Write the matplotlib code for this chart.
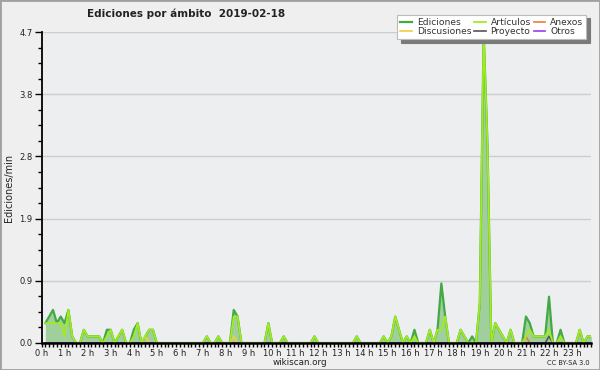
import numpy as np
import matplotlib
matplotlib.use("Agg")
import matplotlib.pyplot as plt
from matplotlib.ticker import MultipleLocator, FixedLocator
import matplotlib.transforms as mtrans

# edits/min per 10-minute bin, one row per hour (first bin of the day missing)
ediciones = [
    np.nan, 0.3, 0.4, 0.5, 0.3, 0.4,   # 0h
    0.3, 0.5, 0.1, 0, 0, 0.2,          # 1h
    0.1, 0.1, 0.1, 0.1, 0, 0.2,        # 2h
    0.2, 0, 0.1, 0.2, 0, 0,            # 3h
    0.2, 0.3, 0, 0.1, 0.2, 0.2,        # 4h
    0, 0, 0, 0, 0, 0,                  # 5h
    0, 0, 0, 0, 0, 0,                  # 6h
    0, 0.1, 0, 0, 0.1, 0,              # 7h
    0, 0, 0.5, 0.4, 0, 0,              # 8h
    0, 0, 0, 0, 0, 0.3,                # 9h
    0, 0, 0, 0.1, 0, 0,                # 10h
    0, 0, 0, 0, 0, 0.1,                # 11h
    0, 0, 0, 0, 0, 0,                  # 12h
    0, 0, 0, 0, 0.1, 0,                # 13h
    0, 0, 0, 0, 0, 0.1,                # 14h
    0, 0.1, 0.4, 0.2, 0, 0.1,          # 15h
    0, 0.2, 0, 0, 0, 0.2,              # 16h
    0, 0.2, 0.9, 0.4, 0, 0,            # 17h
    0, 0.2, 0.1, 0, 0.1, 0,            # 18h
    0.6, 4.7, 3.0, 0, 0.3, 0.2,        # 19h
    0.1, 0, 0.2, 0, 0, 0,              # 20h
    0.4, 0.3, 0.1, 0.1, 0.1, 0.1,      # 21h
    0.7, 0, 0, 0.2, 0, 0,              # 22h
    0, 0, 0.2, 0, 0.1, 0.1,            # 23h
]
articulos = [
    np.nan, 0.3, 0.3, 0.3, 0.3, 0.3,
    0.1, 0.5, 0.1, 0, 0, 0.2,
    0.1, 0.1, 0.1, 0.1, 0, 0.1,
    0.2, 0, 0.1, 0.2, 0, 0,
    0.1, 0.3, 0, 0.1, 0.2, 0.2,
    0, 0, 0, 0, 0, 0,
    0, 0, 0, 0, 0, 0,
    0, 0.1, 0, 0, 0.1, 0,
    0, 0, 0.4, 0.4, 0, 0,
    0, 0, 0, 0, 0, 0.3,
    0, 0, 0, 0.1, 0, 0,
    0, 0, 0, 0, 0, 0.1,
    0, 0, 0, 0, 0, 0,
    0, 0, 0, 0, 0.1, 0,
    0, 0, 0, 0, 0, 0.1,
    0, 0.1, 0.4, 0.2, 0, 0.1,
    0, 0.1, 0, 0, 0, 0.2,
    0, 0.2, 0.2, 0.4, 0, 0,
    0, 0.2, 0.1, 0, 0, 0,
    0.6, 4.7, 3.0, 0, 0.3, 0.2,
    0.1, 0, 0.2, 0, 0, 0,
    0.1, 0.2, 0.1, 0.1, 0.1, 0.1,
    0.2, 0, 0, 0.1, 0, 0,
    0, 0, 0.2, 0, 0.1, 0.1,
]
# sparse series: (bin index, value)
discusiones_pts = [(27, 0.1), (50, 0.1)]
anexos_pts = [(126, 0.1)]
proyecto_pts = [(132, 0.1)]
otros_pts = []

labels = ["Ediciones", "Discusiones", "Artículos", "Proyecto", "Anexos", "Otros"]
hour_labels = [f"{h} h" for h in range(24)]
YMAX = 4.7

C_ED, C_FILL = "#42a945", "#a0cf9c"
C_ART, C_DISC = "#a2ec1e", "#f2d038"
C_ANX, C_PROJ, C_OTR = "#f07a3a", "#555555", "#9b3cf0"
BG_FIG, BG_AX = "#efefef", "#edeef0"
TXT = "#222222"

n = len(ediciones)
t = np.arange(n) / 6.0

def from_pts(pts):
    v = np.zeros(n)
    v[0] = np.nan
    for k, val in pts:
        v[k] = val
    return v

ed = np.array(ediciones, dtype=float)
art = np.array(articulos, dtype=float)

W, H = 600, 370
fig = plt.figure(figsize=(6, 3.7), dpi=100)
fig.patch.set_facecolor(BG_FIG)
ax = fig.add_axes([41.5 / W, 27 / H, 549.8 / W, 311 / H])
ax.set_facecolor(BG_AX)

ax.fill_between(t, 0, ed, color=C_FILL, lw=0)
l_ed, = ax.plot(t, ed, color=C_ED, lw=1.6)
l_disc, = ax.plot(t, from_pts(discusiones_pts), color=C_DISC, lw=1.2)
l_anx, = ax.plot(t, from_pts(anexos_pts), color=C_ANX, lw=1.2)
l_proj, = ax.plot(t, from_pts(proyecto_pts), color=C_PROJ, lw=1.2)
l_otr, = ax.plot(t, from_pts(otros_pts), color=C_OTR, lw=1.2)
l_art, = ax.plot(t, art, color=C_ART, lw=1.3)

ax.set_xlim(0, (n - 1) / 6.0)
ax.set_ylim(0, YMAX)

yt = np.linspace(0, YMAX, 6)
ax.yaxis.set_major_locator(FixedLocator(yt))
ax.set_yticklabels([f"{v:.1f}" for v in yt])
ax.yaxis.set_minor_locator(MultipleLocator(YMAX / 20))
ax.grid(axis="y", color="#cdcdcd", lw=1)
ax.set_axisbelow(True)

ax.xaxis.set_major_locator(FixedLocator(range(24)))
ax.set_xticklabels(hour_labels)
ax.xaxis.set_minor_locator(MultipleLocator(1 / 6))
off = mtrans.ScaledTranslation(4 / 100, 0, fig.dpi_scale_trans)
for lab in ax.get_xticklabels():
    lab.set_transform(lab.get_transform() + off)

ax.tick_params(axis="both", which="both", direction="out", color="black",
               labelsize=6, pad=1.5, labelcolor=TXT)
ax.tick_params(axis="x", which="both", length=3, width=1, pad=1)
ax.tick_params(axis="y", which="major", length=5, width=1)
ax.tick_params(axis="y", which="minor", length=3, width=1)

for s in ["top", "right"]:
    ax.spines[s].set_visible(False)
ax.spines["left"].set_linewidth(1.3)
ax.spines["bottom"].set_linewidth(1.8)

ax.set_ylabel("Ediciones/min", fontsize=7, color=TXT)
ax.yaxis.set_label_coords(-27 / 549.8, 0.5)

fig.text(87 / W, 1 - 14 / H, "Ediciones por ámbito  2019-02-18",
         fontsize=7.5, fontweight="bold", ha="left", va="center", color=TXT)

leg = fig.legend([l_ed, l_disc, l_art, l_proj, l_anx, l_otr], labels,
                 ncol=3, loc="upper right", bbox_to_anchor=(591 / W, 1 - 10 / H),
                 fontsize=6.6, handlelength=1.3, handletextpad=0.5,
                 columnspacing=0.3, labelspacing=0.05, borderpad=0.35,
                 fancybox=False, framealpha=1, edgecolor="#bbbbbb",
                 shadow={"ox": 2.5, "oy": -2.5, "color": "#7a7a7a", "alpha": 1})
leg.get_frame().set_linewidth(0.8)
for tx in leg.get_texts():
    tx.set_color("#333333")

fig.text(300 / W, 1 - 362.5 / H, "wikiscan.org", fontsize=6.3, ha="center",
         va="center", color=TXT)
fig.text(590 / W, 1 - 363 / H, "CC BY-SA 3.0", fontsize=4.8, ha="right",
         va="center", color=TXT)

fig.patches.append(plt.Rectangle((0, 0), 1, 1, transform=fig.transFigure,
                                 fill=False, edgecolor="#a0a0a0", lw=2))

plt.savefig("out.png", dpi=100, facecolor=BG_FIG)
